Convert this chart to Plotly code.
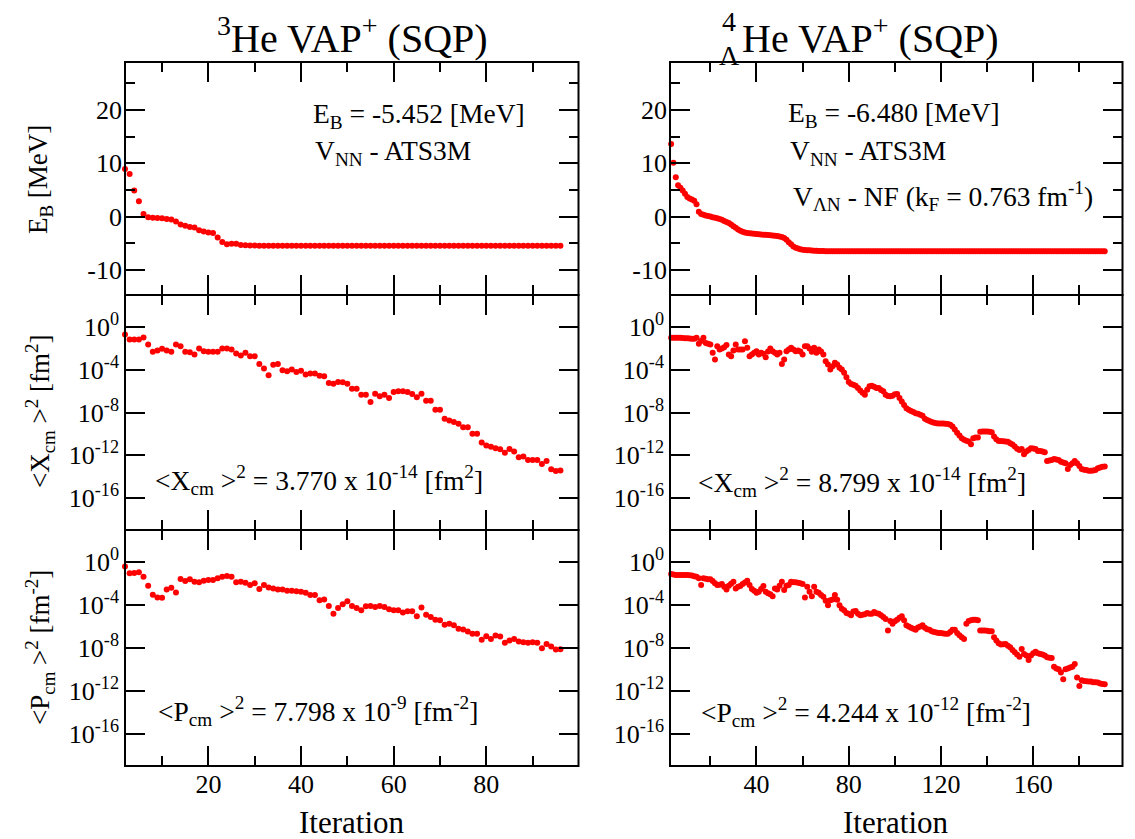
import plotly.graph_objects as go
from plotly.subplots import make_subplots

W, H = 1135, 839

# ---------------- data: 3He (left column) ----------------
iter_he3 = [2, 3, 4, 5, 6, 7, 8, 9, 10, 11, 12, 13, 14, 15, 16, 17, 18, 19, 20, 21,
            22, 23, 24, 25, 26, 27, 28, 29, 30, 31, 32, 33, 34, 35, 36, 37, 38, 39, 40, 41,
            42, 43, 44, 45, 46, 47, 48, 49, 50, 51, 52, 53, 54, 55, 56, 57, 58, 59, 60, 61,
            62, 63, 64, 65, 66, 67, 68, 69, 70, 71, 72, 73, 74, 75, 76, 77, 78, 79, 80, 81,
            82, 83, 84, 85, 86, 87, 88, 89, 90, 91, 92, 93, 94, 95, 96]

eb_he3 = [8.94, 8.0, 4.88, 2.88, 0.5, -0.13, -0.2, -0.25, -0.3, -0.45,
          -0.55, -0.9, -1.5, -1.7, -1.95, -2.05, -2.55, -2.8, -3.0, -3.05,
          -3.9, -4.75, -5.2, -5.1, -5.1, -5.3, -5.35, -5.4, -5.43, -5.44,
          -5.45, -5.45, -5.45, -5.452, -5.452, -5.452, -5.452, -5.452, -5.452, -5.452,
          -5.452, -5.452, -5.452, -5.452, -5.452, -5.452, -5.452, -5.452, -5.452, -5.452,
          -5.452, -5.452, -5.452, -5.452, -5.452, -5.452, -5.452, -5.452, -5.452, -5.452,
          -5.452, -5.452, -5.452, -5.452, -5.452, -5.452, -5.452, -5.452, -5.452, -5.452,
          -5.452, -5.452, -5.452, -5.452, -5.452, -5.452, -5.452, -5.452, -5.452, -5.452,
          -5.452, -5.452, -5.452, -5.452, -5.452, -5.452, -5.452, -5.452, -5.452, -5.452,
          -5.452, -5.452, -5.452, -5.452, -5.452]

xcm_he3_log10 = [-0.69, -1.16, -1.16, -1.16, -0.97, -1.63, -2.32, -2.19, -2.04, -2.19,
                 -2.32, -1.63, -1.79, -2.32, -2.35, -2.57, -2.0, -2.26, -2.32, -2.32,
                 -2.32, -2.0, -2.0, -2.1, -2.48, -2.66, -2.41, -2.73, -2.73, -3.45,
                 -3.89, -4.51, -3.54, -3.45, -4.04, -4.14, -3.98, -4.2, -4.08, -4.45,
                 -4.36, -4.36, -4.55, -4.61, -5.24, -5.30, -5.14, -5.17, -5.30, -5.77,
                 -5.77, -6.33, -6.33, -7.02, -6.24, -6.49, -6.33, -6.65, -6.08, -6.02,
                 -6.02, -6.08, -6.27, -6.58, -6.24, -6.90, -6.90, -7.74, -7.74, -8.59,
                 -8.75, -8.90, -9.06, -9.37, -9.37, -10.0, -10.0, -10.8, -11.1, -11.2,
                 -11.35, -11.44, -11.76, -11.41, -11.66, -12.19, -12.13, -12.45, -12.45, -12.45,
                 -12.82, -12.54, -13.32, -13.48, -13.42]

pcm_he3_log10 = [-0.41, -1.03, -1.0, -0.94, -1.35, -2.19, -3.04, -3.29, -3.32, -2.54,
                 -2.38, -2.82, -1.57, -1.76, -1.60, -1.82, -1.88, -1.72, -1.66, -1.66,
                 -1.50, -1.35, -1.29, -1.35, -1.88, -1.82, -1.91, -2.13, -1.97, -2.51,
                 -2.13, -2.35, -2.45, -2.54, -2.54, -2.66, -2.66, -2.70, -2.76, -2.85,
                 -3.07, -3.07, -3.54, -3.48, -4.08, -4.80, -4.26, -3.92, -3.64, -4.08,
                 -4.26, -4.48, -4.11, -4.08, -4.17, -4.08, -4.17, -4.39, -4.48, -4.48,
                 -4.70, -4.58, -4.58, -5.05, -4.23, -4.89, -5.11, -5.36, -5.42, -5.83,
                 -5.74, -5.89, -6.21, -6.27, -6.46, -6.68, -6.68, -7.24, -6.90, -7.15,
                 -6.83, -6.93, -7.52, -7.30, -7.15, -7.40, -7.46, -7.52, -7.46, -7.52,
                 -8.03, -7.62, -7.87, -8.15, -8.11]

# ---------------- data: 4_Lambda He (right column) ----------------
iter_he4l = [2, 3, 4, 5, 6, 7, 8, 9, 10, 11, 12, 13, 14, 15, 16, 17, 18, 19, 20, 21,
             22, 23, 24, 25, 26, 27, 28, 29, 30, 31, 32, 33, 34, 35, 36, 37, 38, 39, 40, 41,
             42, 43, 44, 45, 46, 47, 48, 49, 50, 51, 52, 53, 54, 55, 56, 57, 58, 59, 60, 61,
             62, 63, 64, 65, 66, 67, 68, 69, 70, 71, 72, 73, 74, 75, 76, 77, 78, 79, 80, 81,
             82, 83, 84, 85, 86, 87, 88, 89, 90, 91, 92, 93, 94, 95, 96, 97, 98, 99, 100, 101,
             102, 103, 104, 105, 106, 107, 108, 109, 110, 111, 112, 113, 114, 115, 116, 117, 118, 119, 120, 121,
             122, 123, 124, 125, 126, 127, 128, 129, 130, 131, 132, 133, 134, 135, 136, 137, 138, 139, 140, 141,
             142, 143, 144, 145, 146, 147, 148, 149, 150, 151, 152, 153, 154, 155, 156, 157, 158, 159, 160, 161,
             162, 163, 164, 165, 166, 167, 168, 169, 170, 171, 172, 173, 174, 175, 176, 177, 178, 179, 180, 181,
             182, 183, 184, 185, 186, 187, 188, 189, 190, 191]

eb_he4l = [14.1, 13.6, 10.1, 7.4, 5.9, 5.4, 4.9, 4.3, 3.7, 3.4,
           3.2, 3.0, 2.3, 0.9, 0.5, 0.35, 0.2, 0.1, 0.0, -0.1,
           -0.2, -0.3, -0.45, -0.6, -0.8, -1.0, -1.2, -1.5, -1.8, -2.1,
           -2.4, -2.65, -2.85, -3.0, -3.05, -3.1, -3.15, -3.2, -3.25, -3.3,
           -3.35, -3.38, -3.42, -3.46, -3.5, -3.55, -3.6, -3.65, -3.72, -3.8,
           -4.0, -4.35, -4.8, -5.2, -5.6, -5.85, -6.0, -6.1, -6.2, -6.25,
           -6.3, -6.33, -6.36, -6.4, -6.42, -6.44, -6.46, -6.47, -6.48, -6.48,
           -6.48, -6.48, -6.48, -6.48, -6.48, -6.48, -6.48, -6.48, -6.48, -6.48,
           -6.48, -6.48, -6.48, -6.48, -6.48, -6.48, -6.48, -6.48, -6.48, -6.48,
           -6.48, -6.48, -6.48, -6.48, -6.48, -6.48, -6.48, -6.48, -6.48, -6.48,
           -6.48, -6.48, -6.48, -6.48, -6.48, -6.48, -6.48, -6.48, -6.48, -6.48,
           -6.48, -6.48, -6.48, -6.48, -6.48, -6.48, -6.48, -6.48, -6.48, -6.48,
           -6.48, -6.48, -6.48, -6.48, -6.48, -6.48, -6.48, -6.48, -6.48, -6.48,
           -6.48, -6.48, -6.48, -6.48, -6.48, -6.48, -6.48, -6.48, -6.48, -6.48,
           -6.48, -6.48, -6.48, -6.48, -6.48, -6.48, -6.48, -6.48, -6.48, -6.48,
           -6.48, -6.48, -6.48, -6.48, -6.48, -6.48, -6.48, -6.48, -6.48, -6.48,
           -6.48, -6.48, -6.48, -6.48, -6.48, -6.48, -6.48, -6.48, -6.48, -6.48,
           -6.48, -6.48, -6.48, -6.48, -6.48, -6.48, -6.48, -6.48, -6.48, -6.48,
           -6.48, -6.48, -6.48, -6.48, -6.48, -6.48, -6.48, -6.48, -6.48, -6.48]

xcm_he4l_log10 = [-0.53, -1.0, -1.0, -1.0, -1.0, -1.0, -1.02, -1.04, -1.06, -1.08,
                  -1.1, -1.1, -1.0, -1.57, -1.3, -1.0, -1.5, -1.57, -1.63, -2.41,
                  -3.04, -1.79, -2.1, -2.0, -1.9, -1.69, -2.57, -2.73, -2.2, -1.63,
                  -2.1, -2.1, -2.1, -1.32, -1.94, -2.73, -2.57, -2.4, -2.26, -2.57,
                  -2.41, -2.5, -2.82, -2.3, -2.0, -2.26, -2.4, -2.57, -2.41, -3.45,
                  -3.04, -2.26, -2.1, -1.94, -2.1, -2.26, -2.19, -2.3, -2.57, -1.79,
                  -1.79, -2.0, -2.32, -1.94, -2.41, -2.1, -2.3, -2.57, -3.2, -3.51,
                  -3.98, -3.67, -3.35, -3.51, -3.8, -3.98, -4.29, -4.7, -5.14, -5.33,
                  -5.4, -5.5, -5.71, -5.95, -6.15, -6.33, -5.86, -5.55, -5.49, -5.6,
                  -5.71, -5.71, -5.9, -6.02, -6.33, -6.45, -6.49, -6.43, -6.3, -6.27,
                  -6.65, -6.96, -7.3, -7.6, -7.74, -7.85, -7.95, -8.06, -8.12, -8.2,
                  -8.3, -8.59, -8.7, -8.8, -8.9, -8.97, -9.0, -9.03, -9.03, -9.04,
                  -9.06, -9.08, -9.15, -9.31, -9.6, -9.9, -10.15, -10.41, -10.56, -10.65,
                  -10.72, -10.97, -10.4, -10.34, -10.34, -9.8, -9.78, -9.78, -9.78, -9.8,
                  -9.84, -10.25, -10.5, -10.66, -10.66, -10.7, -10.72, -10.75, -10.88, -11.0,
                  -11.19, -11.4, -11.5, -11.41, -11.91, -11.66, -11.5, -11.35, -11.38, -11.41,
                  -11.6, -11.6, -11.65, -11.72, -12.54, -12.5, -12.45, -12.35, -12.4, -12.45,
                  -12.6, -12.68, -12.76, -13.29, -12.92, -12.76, -12.54, -12.76, -13.0, -13.29,
                  -13.35, -13.39, -13.45, -13.45, -13.43, -13.39, -13.23, -13.15, -13.07, -13.06]

pcm_he4l_log10 = [-0.5, -1.1, -1.15, -1.19, -1.19, -1.19, -1.19, -1.19, -1.2, -1.22,
                  -1.25, -1.3, -1.35, -1.5, -2.13, -1.5, -1.55, -1.6, -1.6, -1.75,
                  -1.97, -2.13, -2.1, -2.04, -2.29, -2.54, -2.2, -2.0, -1.82, -2.45,
                  -2.3, -2.23, -2.04, -1.9, -1.72, -2.13, -2.5, -2.66, -2.85, -2.76,
                  -2.5, -2.23, -2.76, -2.9, -2.98, -3.17, -2.45, -2.54, -2.2, -1.82,
                  -2.6, -2.2, -2.13, -1.82, -1.88, -1.88, -1.91, -1.97, -2.04, -3.29,
                  -2.29, -2.76, -3.17, -2.29, -2.76, -2.85, -3.07, -3.23, -3.6, -4.01,
                  -3.54, -3.48, -3.07, -3.5, -4.01, -4.33, -4.48, -4.73, -4.8, -4.95,
                  -4.6, -4.55, -4.8, -4.95, -4.9, -4.86, -4.73, -4.8, -4.8, -4.64,
                  -4.75, -4.8, -4.95, -5.11, -5.3, -6.36, -5.49, -5.74, -5.5, -5.36,
                  -5.17, -5.05, -5.42, -5.89, -6.0, -6.11, -6.21, -6.3, -6.1, -5.99,
                  -5.89, -6.11, -6.25, -6.3, -6.43, -6.5, -6.55, -6.61, -6.61, -6.65,
                  -6.68, -6.68, -6.5, -6.3, -6.3, -6.6, -6.8, -6.99, -7.15, -5.74,
                  -5.49, -5.42, -5.36, -5.36, -5.42, -6.36, -6.36, -6.36, -6.4, -6.43,
                  -6.43, -7.0, -7.3, -7.55, -7.68, -7.65, -7.62, -7.8, -7.93, -8.18,
                  -8.4, -8.6, -8.81, -8.09, -8.56, -8.71, -9.12, -8.71, -8.5, -8.34,
                  -8.5, -8.56, -8.6, -8.71, -8.87, -8.9, -8.93, -9.75, -9.9, -9.97,
                  -10.28, -10.91, -9.97, -9.9, -9.81, -9.75, -9.5, -10.75, -11.54, -11.0,
                  -11.07, -11.1, -11.13, -11.13, -11.19, -11.2, -11.22, -11.3, -11.35, -11.37]

# ---------------- axis tick labels ----------------
eb_tickvals = [-10, 0, 10, 20]
eb_ticktext = ["-10", "0", "10", "20"]
log_tickvals = [1, 1e-4, 1e-8, 1e-12, 1e-16]
log_ticktext = ["10<sup>0</sup>", "10<sup>-4</sup>", "10<sup>-8</sup>",
                "10<sup>-12</sup>", "10<sup>-16</sup>"]

# ---------------- figure ----------------
FONT = "Liberation Serif, Times New Roman, serif"
RED = "#ff0000"

fig = make_subplots(rows=3, cols=2)

series = [
    (1, 1, iter_he3, eb_he3),
    (1, 2, iter_he4l, eb_he4l),
    (2, 1, iter_he3, [10 ** v for v in xcm_he3_log10]),
    (2, 2, iter_he4l, [10 ** v for v in xcm_he4l_log10]),
    (3, 1, iter_he3, [10 ** v for v in pcm_he3_log10]),
    (3, 2, iter_he4l, [10 ** v for v in pcm_he4l_log10]),
]
for r, c, xs, ys in series:
    fig.add_trace(go.Scatter(x=xs, y=ys, mode="markers",
                             marker=dict(color=RED, size=6, line=dict(width=0)),
                             cliponaxis=False, hoverinfo="skip"),
                  row=r, col=c)


def px_x(x):
    return x / W


def px_y(y):
    return 1 - y / H


col_dom = [[px_x(125), px_x(578.5)], [px_x(670), px_x(1122.5)]]
row_dom = [[px_y(295), px_y(62)], [px_y(530), px_y(295)], [px_y(766), px_y(530)]]

x_ranges = [[2, 99.9], [2.5, 198.7]]
x_dtick = [20, 40]
x_minor = [10, 20]

axis_common = dict(showline=False, mirror="ticks",
                   ticks="inside", ticklen=20, tickwidth=2, tickcolor="black",
                   showgrid=False, zeroline=False,
                   tickfont=dict(family=FONT, size=26, color="black"))

shapes = []
for r in range(3):
    for c in range(2):
        idx = r * 2 + c + 1
        xname = "xaxis" if idx == 1 else f"xaxis{idx}"
        yname = "yaxis" if idx == 1 else f"yaxis{idx}"
        xa = dict(axis_common, domain=col_dom[c], range=x_ranges[c],
                  tick0=0, dtick=x_dtick[c], showticklabels=(r == 2),
                  minor=dict(ticks="inside", ticklen=10, tickwidth=2, tickcolor="black",
                             dtick=x_minor[c], tick0=0, showgrid=False))
        if r == 0:
            ya = dict(axis_common, domain=row_dom[r], range=[-14.7, 29.0],
                      tickmode="array", tickvals=eb_tickvals, ticktext=eb_ticktext,
                      ticklabelstandoff=2,
                      minor=dict(ticks="inside", ticklen=10, tickwidth=2, tickcolor="black",
                                 dtick=5, tick0=0, showgrid=False))
        else:
            ya = dict(axis_common, domain=row_dom[r], type="log", range=[-19, 3],
                      tickmode="array", tickvals=log_tickvals, ticktext=log_ticktext,
                      ticklabelstandoff=5)
        fig.layout[xname].update(xa)
        fig.layout[yname].update(ya)
        xr = "x" if idx == 1 else f"x{idx}"
        yr = "y" if idx == 1 else f"y{idx}"
        shapes.append(dict(type="rect", xref=f"{xr} domain", yref=f"{yr} domain",
                           x0=0, x1=1, y0=0, y1=1, layer="above",
                           line=dict(color="black", width=2), fillcolor="rgba(0,0,0,0)"))

annotations = []


def add_text(text, x, y, size, xanchor="left", yanchor="middle", angle=0):
    annotations.append(dict(text=text, x=px_x(x), y=px_y(y), xref="paper", yref="paper",
                            xanchor=xanchor, yanchor=yanchor, showarrow=False,
                            textangle=angle,
                            font=dict(family=FONT, size=size, color="black")))


# column titles
add_text("<sup>3</sup>He VAP<sup>+</sup> (SQP)", 352, 36, 40, xanchor="center")
add_text("He VAP<sup>+</sup> (SQP)", 740, 36, 40, xanchor="left")
add_text("4", 729, 22, 28, xanchor="center")
add_text("\u039b", 729, 55, 28, xanchor="center")

# in-panel labels
add_text("E<sub>B</sub> = -5.452 [MeV]", 311, 115, 27.5)
add_text("V<sub>NN</sub> - ATS3M", 313, 153, 27.5)
add_text("E<sub>B</sub> = -6.480 [MeV]", 786, 114, 27.5)
add_text("V<sub>NN</sub> - ATS3M", 788, 153, 27.5)
add_text("V<sub>\u039bN</sub> - NF (k<sub>F</sub> = 0.763 fm<sup>-1</sup>)", 791, 196, 27.5)
add_text("&lt;X<sub>cm</sub> &gt;<sup>2</sup> = 3.770 x 10<sup>-14</sup> [fm<sup>2</sup>]",
         153, 480, 27.5)
add_text("&lt;X<sub>cm</sub> &gt;<sup>2</sup> = 8.799 x 10<sup>-14</sup> [fm<sup>2</sup>]",
         696, 482, 27.5)
add_text("&lt;P<sub>cm</sub> &gt;<sup>2</sup> = 7.798 x 10<sup>-9</sup> [fm<sup>-2</sup>]",
         156, 711, 27.5)
add_text("&lt;P<sub>cm</sub> &gt;<sup>2</sup> = 4.244 x 10<sup>-12</sup> [fm<sup>-2</sup>]",
         699, 712, 27.5)

# axis titles
add_text("E<sub>B</sub> [MeV]", 40, 180, 27, xanchor="center", angle=-90)
add_text("&lt;X<sub>cm</sub> &gt;<sup>2</sup> [fm<sup>2</sup>]", 40, 412, 27,
         xanchor="center", angle=-90)
add_text("&lt;P<sub>cm</sub> &gt;<sup>2</sup> [fm<sup>-2</sup>]", 40, 648, 27,
         xanchor="center", angle=-90)
add_text("Iteration", 352, 822, 31, xanchor="center")
add_text("Iteration", 896, 822, 31, xanchor="center")

fig.update_layout(width=W, height=H, margin=dict(l=0, r=0, t=0, b=0),
                  paper_bgcolor="white", plot_bgcolor="white", showlegend=False,
                  font=dict(family=FONT, color="black"),
                  annotations=annotations, shapes=shapes)

fig.write_html("out.html")
